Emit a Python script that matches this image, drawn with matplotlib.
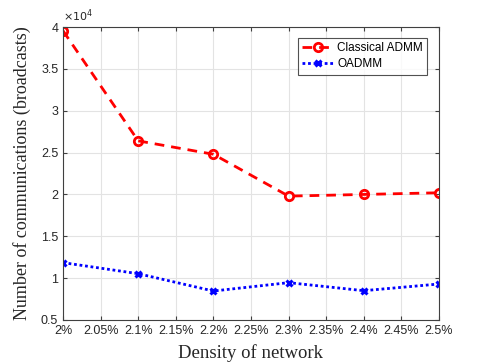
import matplotlib.pyplot as plt
import numpy as np
from matplotlib.ticker import FuncFormatter

density = [2.0, 2.1, 2.2, 2.3, 2.4, 2.5]
admm = [39550, 26400, 24800, 19800, 20000, 20200]
oadmm = [11850, 10530, 8460, 9460, 8500, 9300]

xticks = [2.0, 2.05, 2.1, 2.15, 2.2, 2.25, 2.3, 2.35, 2.4, 2.45, 2.5]
yticks = [5000, 10000, 15000, 20000, 25000, 30000, 35000, 40000]

fig = plt.figure(figsize=(4.85, 3.63), dpi=100)
ax = fig.add_axes([0.13, 0.1185, 0.775, 0.807])

ax.plot(density, admm, color='red', linestyle=(0, (3.5, 2.5)), linewidth=2,
        marker='o', markersize=6, markerfacecolor='none', markeredgewidth=2,
        label='Classical ADMM')
ax.plot(density, oadmm, color='blue', linestyle=(0, (1, 1)), linewidth=2,
        marker='x', markersize=5, markeredgewidth=2.2, label='OADMM')

ax.set_xlim(2.0, 2.5)
ax.set_ylim(5000, 40000)
ax.set_xticks(xticks)
ax.set_xticklabels(['%g%%' % v for v in xticks])
ax.set_yticks(yticks)
ax.yaxis.set_major_formatter(FuncFormatter(lambda v, p: '%g' % (v / 1e4)))

ax.grid(True, color='#e3e3e3', linewidth=0.8)
ax.set_axisbelow(True)
for s in ax.spines.values():
    s.set_color('#404040')
    s.set_linewidth(0.8)
ax.tick_params(direction='in', length=3, colors='#404040', labelsize=9,
               top=True, right=True, labelcolor='#262626')
for lab in ax.get_xticklabels() + ax.get_yticklabels():
    lab.set_family('Liberation Sans')

ax.text(0.0, 1.01, r'$\times10^4$', transform=ax.transAxes, fontsize=8,
        color='#262626', family='Liberation Sans', va='bottom', ha='left')

ax.set_xlabel('Density of network', family='Liberation Serif', fontsize=13.5,
              color='#262626', labelpad=5)
ax.set_ylabel('Number of communications (broadcasts)', family='Liberation Serif',
              fontsize=13, color='#262626', labelpad=7)

leg = ax.legend(loc='upper right', bbox_to_anchor=(0.975, 0.97),
                prop={'family': 'Liberation Sans', 'size': 8.5}, fancybox=False,
                edgecolor='#262626', handlelength=2.7, borderpad=0.35,
                labelspacing=0.35, handletextpad=0.3, borderaxespad=0.2)
leg.get_frame().set_linewidth(0.8)

fig.savefig('out.png', dpi=100)
